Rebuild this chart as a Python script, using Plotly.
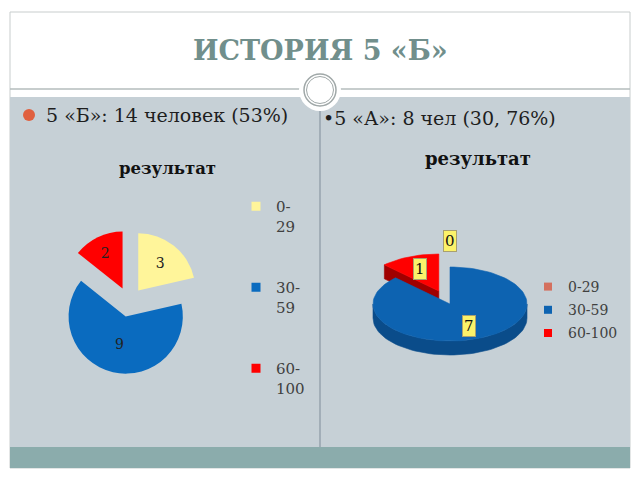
import numpy as np
import plotly.graph_objects as go

# ---------------- data ----------------
categories = ["0-29", "30-59", "60-100"]
left_values = [3, 9, 2]      # 5 «Б»
right_values = [0, 7, 1]     # 5 «А»

slide_title = "ИСТОРИЯ 5 «Б»"
left_caption = "5 «Б»: 14 человек (53%)"
right_caption = "•5 «А»: 8 чел (30, 76%)"
chart_title = "результат"

# ---------------- style ----------------
SERIF = "DejaVu Serif"
left_colors = ["#fff59a", "#0a6bbf", "#ff0000"]
right_top_colors = ["#d4705e", "#0d63b1", "#ff0000"]
right_side_colors = ["#8a3a2e", "#0a4c8a", "#a00000"]
right_pulls = [0.0, 0.0, 0.38]

fig = go.Figure()

# ---------------- left pie (exploded) ----------------
fig.add_trace(go.Pie(
    labels=categories, values=left_values, sort=False, direction="clockwise",
    rotation=0, pull=[0.26] * len(left_values),
    marker=dict(colors=left_colors, line=dict(width=0)),
    textinfo="value", textposition="inside", insidetextorientation="horizontal",
    textfont=dict(family=SERIF, size=14, color="#222222"),
    domain=dict(x=[57 / 640, 201 / 640], y=[1 - 374 / 480, 1 - 230 / 480]),
    showlegend=False, hoverinfo="label+value",
))

# left legend (dummy marker traces)
for lab, col in zip(categories, left_colors):
    name = lab.replace("-", "-<br>")
    if lab != categories[-1]:
        name += "<br>\u00a0<br>\u00a0"
    fig.add_trace(go.Scatter(
        x=[None], y=[None], mode="markers", name=name, legend="legend",
        marker=dict(symbol="square", size=9, color=col),
    ))

# ---------------- right pie (3D-like) ----------------
cx, cy, rx, ry, depth = 450, 304, 77, 37, 14
total = sum(right_values)


def pt(theta, ox, oy, dz=0.0):
    t = np.radians(theta)
    return ox + rx * np.sin(t), oy - ry * np.cos(t) + dz


def arc(a0, a1, ox, oy, dz=0.0):
    th = np.linspace(a0, a1, max(int(abs(a1 - a0) / 3), 2) + 1)
    xs, ys = pt(th, ox, oy, dz)
    return list(xs), list(ys)


def poly(xs, ys, color):
    fig.add_trace(go.Scatter(
        x=xs + [xs[0]], y=ys + [ys[0]], mode="lines", fill="toself",
        fillcolor=color, line=dict(color=color, width=0.6),
        hoverinfo="skip", showlegend=False,
    ))


slices = []
acc = 0.0
for i, v in enumerate(right_values):
    a0 = acc / total * 360
    acc += v
    a1 = acc / total * 360
    mid = (a0 + a1) / 2
    m = np.radians(mid)
    ox = cx + right_pulls[i] * rx * np.sin(m)
    oy = cy - right_pulls[i] * ry * np.cos(m)
    slices.append(dict(i=i, v=v, a0=a0, a1=a1, mid=mid, ox=ox, oy=oy))

# draw back to front
for s in sorted(slices, key=lambda s: -np.cos(np.radians(s["mid"]))):
    if s["v"] <= 0:
        continue
    i, a0, a1, ox, oy = s["i"], s["a0"], s["a1"], s["ox"], s["oy"]
    side = right_side_colors[i]
    for a, sign in ((a0, -1), (a1, 1)):
        if sign * np.sin(np.radians(a)) > 1e-6:
            ex, ey = pt(a, ox, oy)
            poly([ox, ex, ex, ox], [oy, ey, ey + depth, oy + depth], side)
    lo, hi = max(a0, 90), min(a1, 270)
    if lo < hi:
        tx, ty = arc(lo, hi, ox, oy)
        bx, by = arc(hi, lo, ox, oy, depth)
        poly(tx + bx, ty + by, side)
    tx, ty = arc(a0, a1, ox, oy)
    poly([ox] + tx, [oy] + ty, right_top_colors[i])

annotations = []
for s in slices:
    f = 0.65 if s["v"] > 0 else 1.7
    lx, ly = pt(s["mid"], s["ox"], s["oy"])
    lx = s["ox"] + f * (lx - s["ox"])
    ly = s["oy"] + f * (ly - s["oy"])
    annotations.append(dict(
        x=lx, y=ly, text=str(s["v"]),
        font=dict(family=SERIF, size=15, color="#111111"),
        bgcolor="#fbf26a", bordercolor="#a8a070", borderwidth=1, borderpad=1,
    ))

# right legend
for lab, col in zip(categories, right_top_colors):
    fig.add_trace(go.Scatter(
        x=[None], y=[None], mode="markers", name=lab, legend="legend2",
        legendgroup="r" + lab,
        marker=dict(symbol="square", size=8, color=col),
    ))

# ---------------- texts ----------------
annotations += [
    dict(x=320, y=50, text=f"<b>{slide_title}</b>", font=dict(family=SERIF, size=27, color="#718f8c")),
    dict(x=44, y=115, text=left_caption, xanchor="left", font=dict(family=SERIF, size=19, color="#1e1e1e")),
    dict(x=321, y=118, text=right_caption, xanchor="left", font=dict(family=SERIF, size=19, color="#1e1e1e")),
    dict(x=167, y=168, text=f"<b>{chart_title}</b>", font=dict(family=SERIF, size=16.5, color="#111111")),
    dict(x=478, y=158, text=f"<b>{chart_title}</b>", font=dict(family=SERIF, size=18, color="#111111")),
]
for a in annotations:
    a.setdefault("xref", "x")
    a.setdefault("yref", "y")
    a.setdefault("showarrow", False)

# ---------------- slide decoration ----------------
shapes = [
    dict(type="rect", x0=10, y0=12, x1=630, y1=468, fillcolor="white", line=dict(color="#c8cdcd", width=1)),
    dict(type="rect", x0=10, y0=97, x1=630, y1=447, fillcolor="#c6d0d6", line=dict(width=0)),
    dict(type="rect", x0=10, y0=447, x1=630, y1=468, fillcolor="#8bacac", line=dict(width=0)),
    dict(type="line", x0=10, y0=89, x1=630, y1=89, line=dict(color="#b4bcbc", width=1.5)),
    dict(type="line", x0=320, y0=97, x1=320, y1=447, line=dict(color="#7f8c99", width=1)),
    dict(type="circle", x0=299, y0=69, x1=341, y1=111, fillcolor="white", line=dict(width=0)),
    dict(type="circle", x0=304, y0=74, x1=336, y1=106, fillcolor="white", line=dict(color="#a0a8a8", width=1.5)),
    dict(type="circle", x0=306.5, y0=76.5, x1=333.5, y1=103.5, fillcolor="white", line=dict(color="#a0a8a8", width=1)),
    dict(type="circle", x0=23, y0=109, x1=35, y1=121, fillcolor="#e0603f", line=dict(width=0)),
]
for s in shapes:
    s.update(xref="x", yref="y", layer="below")

fig.update_layout(
    width=640, height=480, margin=dict(l=0, r=0, t=0, b=0),
    paper_bgcolor="white", plot_bgcolor="rgba(0,0,0,0)",
    xaxis=dict(range=[0, 640], visible=False, domain=[0, 1], fixedrange=True),
    yaxis=dict(range=[480, 0], visible=False, domain=[0, 1], fixedrange=True),
    shapes=shapes, annotations=annotations,
    legend=dict(x=236 / 640, y=1 - 190 / 480, xanchor="left", yanchor="top",
                font=dict(family=SERIF, size=15, color="#404040"),
                bgcolor="rgba(0,0,0,0)", valign="top", itemwidth=30),
    legend2=dict(x=528 / 640, y=1 - 271 / 480, xanchor="left", yanchor="top",
                 font=dict(family=SERIF, size=14, color="#404040"),
                 bgcolor="rgba(0,0,0,0)", itemwidth=30, tracegroupgap=2),
    showlegend=True,
)

fig.write_html("out.html")
